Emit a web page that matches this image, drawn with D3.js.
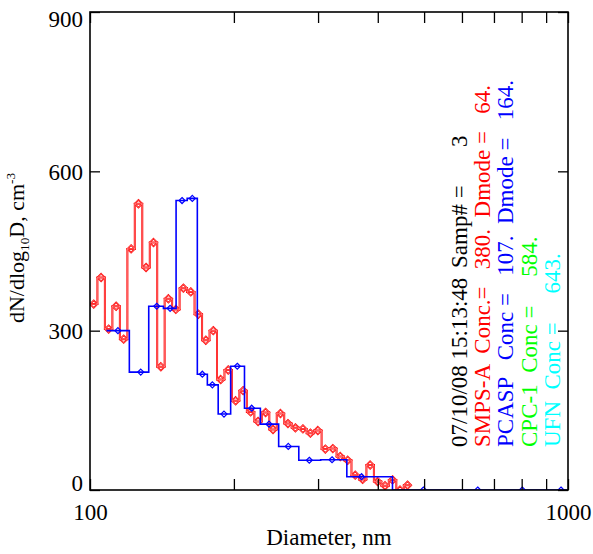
<!DOCTYPE html>
<html><head><meta charset="utf-8">
<script src="https://cdn.jsdelivr.net/npm/d3@7"></script>
<style>
body{margin:0;background:#fff}
svg{display:block}
text{font-family:"Liberation Serif","Times New Roman",serif}
</style>
</head><body>
<svg id="c" width="593" height="554"></svg>
<script>
// ---- data ----
const smpsDiam = [101.8,105.5,109.4,113.4,117.6,121.9,126.3,131.0,135.8,140.7,145.9,151.2,156.8,162.5,168.5,174.7,181.1,187.7,194.6,201.7,209.1,216.8,224.7,233.0,241.5,250.3,259.5,269.0,278.9,289.1,299.7,310.7,322.1,333.9,346.1,358.8,371.9,385.6,399.7,414.3,429.5,445.3,461.6];
const smpsConc = [350,400,303,346,284,454,539,419,466,232,360,340,380,373,331,282,300,208,226,168,187,147,129,146,114,144,125,117,115,107,112,77,78,63,56,28,20,47,16,8,19,0,9];
const pcaspDiam = [114.4,127.7,137.9,147.1,155.8,163.7,171.8,180.3,190.7,203.3,217.9,236.9,259.9,287.6,320.9,370.0,498.2,647.3,802.3,966.8];
const pcaspConc = [300,222,346,342,545,549,218,198,143,233,154,124,82,56,57,25,0,0,0,0];
const yTicks = [0,300,600,900];
const xTicks = [100,200,300,400,500,600,700,800,900,1000];
const xTickLabels = {100:"100",1000:"1000"};
// each annotation line is a list of text pieces
const annoLines = [
  ["07/10/08 15:13:48", "Samp# =", "3"],
  ["SMPS-A  Conc.=   380.  Dmode =   64."],
  ["PCASP   Conc =   107.  Dmode =   164."],
  ["CPC-1  Conc =     584."],
  ["UFN  Conc =     643."]
];
const annoColors = ["#000000","#ff0000","#0000ff","#00ff00","#00ffff"];

// ---- layout ----
const L=90, R=568, T=12, B=490;
const FS = 23;
const svg = d3.select("#c");
const x = d3.scaleLog().domain([100,1000]).range([L,R]);
const y = d3.scaleLinear().domain([0,900]).range([B,T]);

svg.append("defs").append("clipPath").attr("id","plot")
  .append("rect").attr("x",L).attr("y",T).attr("width",R-L).attr("height",B-T);

function stepPath(diams, vals){
  const px = diams.map(d=>x(d)), py = vals.map(v=>y(v));
  const n = px.length, e = [px[0]-(px[1]-px[0])/2];
  for(let i=0;i<n-1;i++) e.push((px[i]+px[i+1])/2);
  e.push(px[n-1]+(px[n-1]-px[n-2])/2);
  let p = `M${e[0]},${py[0]}`;
  for(let i=0;i<n;i++){
    p += `L${e[i+1]},${py[i]}`;
    if(i<n-1) p += `L${e[i+1]},${py[i+1]}`;
  }
  return p;
}
function diamond(r){ return `M0,${-r}L${r},0L0,${r}L${-r},0Z`; }

const g = svg.append("g").attr("clip-path","url(#plot)");
function series(diams, vals, color, sw, r, msw, inner){
  const pts = diams.map((d,i)=>[d,vals[i]]);
  const layers = inner ? [[color, sw, msw],[inner, sw*0.3, msw*0.3]] : [[color, sw, msw]];
  layers.forEach(([c,w,mw])=>{
    g.append("path").attr("d",stepPath(diams,vals)).attr("fill","none")
     .attr("stroke",c).attr("stroke-width",w);
    g.selectAll(null).data(pts).enter().append("path")
     .attr("d",diamond(r)).attr("transform",d=>`translate(${x(d[0])},${y(d[1])})`)
     .attr("fill","none").attr("stroke",c).attr("stroke-width",mw);
  });
}
series(smpsDiam, smpsConc, "#ff0000", 2.0, 3.8, 1.6, "#ffb0b0");
series(pcaspDiam, pcaspConc, "#0000ff", 1.6, 3, 1.2);

// axes
const axL = svg.append("g").attr("transform",`translate(${L},0)`)
  .call(d3.axisLeft(y).tickValues(yTicks).tickSize(-10).tickPadding(7).tickFormat(d3.format("d")));
const axR = svg.append("g").attr("transform",`translate(${R},0)`)
  .call(d3.axisRight(y).tickValues(yTicks).tickSize(-10).tickFormat(""));
const axB = svg.append("g").attr("transform",`translate(0,${B})`)
  .call(d3.axisBottom(x).tickValues(xTicks).tickSize(-11).tickPadding(0).tickFormat(d=>xTickLabels[d]||""));
const axT = svg.append("g").attr("transform",`translate(0,${T})`)
  .call(d3.axisTop(x).tickValues(xTicks).tickSize(-11).tickFormat(""));
[axL,axR,axB,axT].forEach(a=>{
  a.select(".domain").remove();
  a.selectAll(".tick line").attr("stroke","#000").attr("stroke-width",1.3);
  a.selectAll("text").attr("font-family","Liberation Serif").attr("font-size",FS).attr("fill","#000");
});
axL.selectAll(".tick text").attr("x",-7).attr("dy",null).attr("y",d=>d===0?0:(d===900?14:7.8));
axB.selectAll(".tick text").attr("dy",null).attr("y",30);

svg.append("rect").attr("x",L).attr("y",T).attr("width",R-L).attr("height",B-T)
  .attr("fill","none").attr("stroke","#000").attr("stroke-width",1.6);

// titles
svg.append("text").attr("x",(L+R)/2).attr("y",545).attr("text-anchor","middle")
  .attr("font-size",FS).text("Diameter, nm");
const YF = 22;
const yt = svg.append("text").attr("transform","translate(24,248) rotate(-90)")
  .attr("text-anchor","middle").attr("font-size",YF);
yt.append("tspan").text("dN/dlog");
yt.append("tspan").attr("font-size",YF*0.6).attr("dy",5).text("10");
yt.append("tspan").attr("dy",-5).text("D, cm");
yt.append("tspan").attr("font-size",YF*0.6).attr("dy",-9).text("-3");

// annotation (rotated, reading bottom to top); piece start positions along the line
const annoX0 = 467, annoDX = 23.2, annoY0 = 447;
const blackPieceStarts = [0, 179, 300];
annoLines.forEach((pieces,i)=>{
  pieces.forEach((s,j)=>{
    const off = pieces.length>1 ? blackPieceStarts[j] : 0;
    svg.append("text").attr("transform",`translate(${annoX0+i*annoDX},${annoY0-off}) rotate(-90)`)
      .attr("font-size",FS).attr("fill",annoColors[i]).style("white-space","pre").text(s);
  });
});
</script>
</body></html>
